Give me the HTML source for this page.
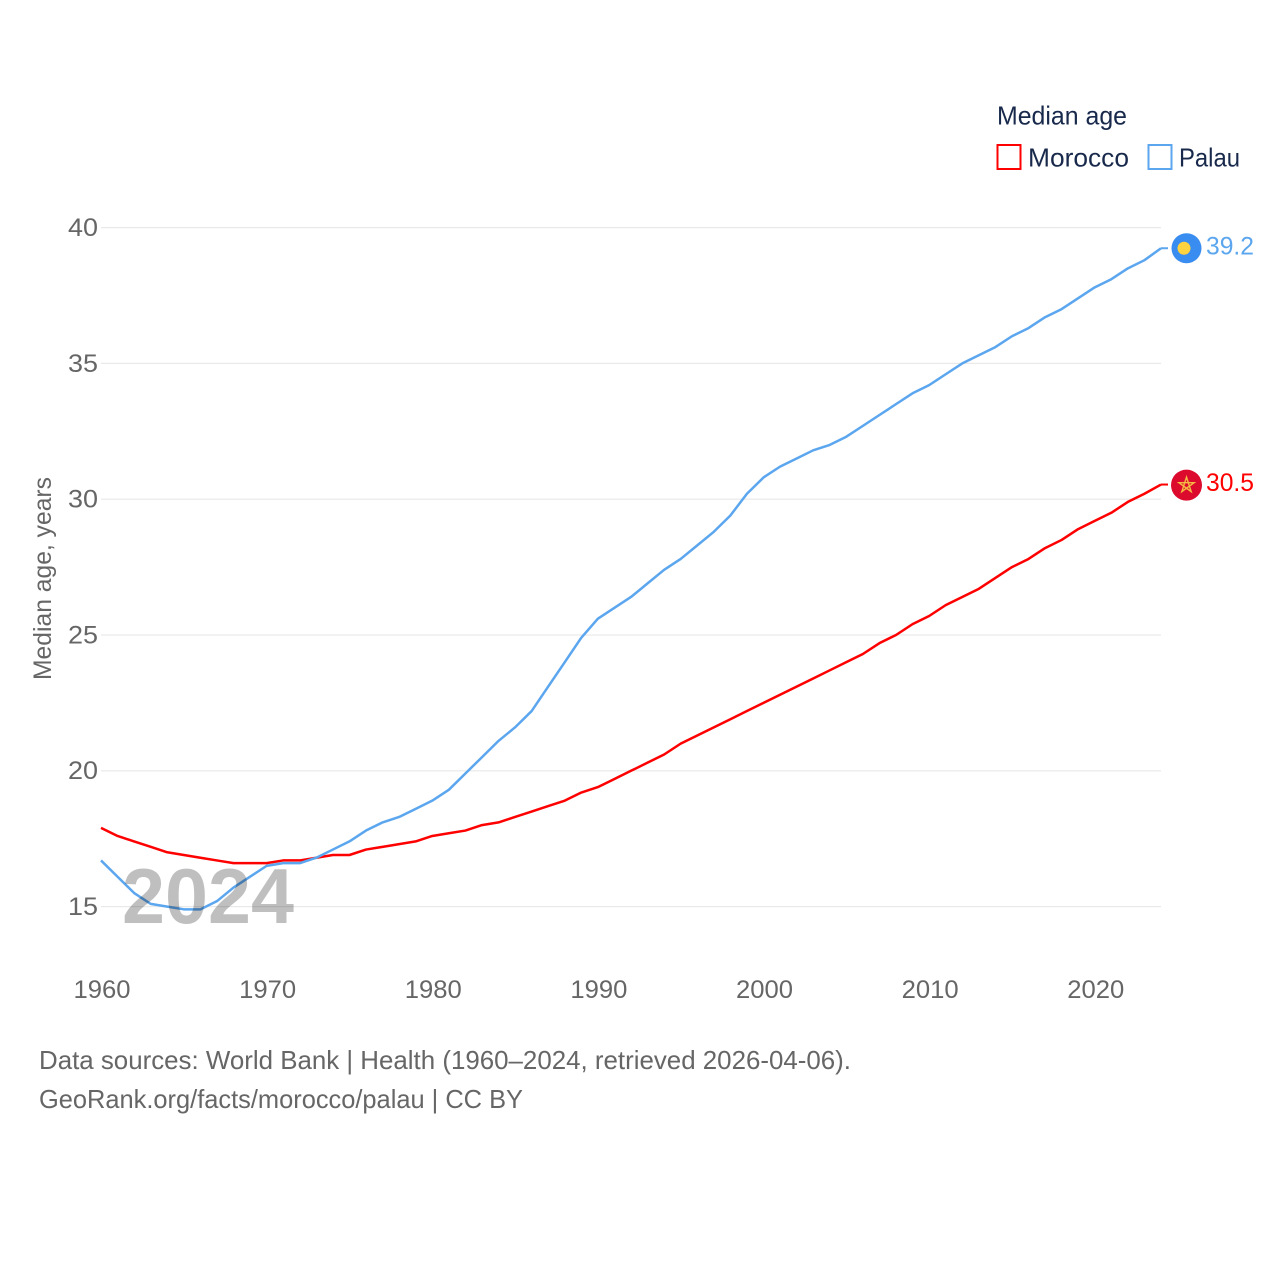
<!DOCTYPE html>
<html lang="en">
<head>
<meta charset="utf-8">
<title>Median age: Morocco and Palau</title>
<style>
html,body{margin:0;padding:0;background:#fff;width:1280px;height:1280px;overflow:hidden}
svg{display:block}
text{font-family:"Liberation Sans",sans-serif}
</style>
</head>
<body>
<svg id="chart" xmlns="http://www.w3.org/2000/svg" width="1280" height="1280" viewBox="0 0 1280 1280">
  <text x="997" y="124.5" font-size="26" fill="#18294b" textLength="130" lengthAdjust="spacingAndGlyphs">Median age</text>
  <rect x="997.5" y="145" width="23" height="24" fill="none" stroke="#ff0000" stroke-width="2"/>
  <text x="1028" y="166.5" font-size="26" fill="#18294b" textLength="101" lengthAdjust="spacingAndGlyphs">Morocco</text>
  <rect x="1148.5" y="145" width="23" height="24" fill="none" stroke="#5ba6ee" stroke-width="2"/>
  <text x="1179" y="166.5" font-size="26" fill="#18294b" textLength="61" lengthAdjust="spacingAndGlyphs">Palau</text>

  <g id="grid"></g>
  <g id="yticks"></g>
  <g id="xticks"></g>

  <text transform="translate(51,680) rotate(-90)" x="0" y="0" font-size="25" fill="#666666" textLength="203" lengthAdjust="spacingAndGlyphs">Median age, years</text>

  <g id="series"></g>

  <text x="122" y="923" font-size="78" font-weight="bold" fill="#000" fill-opacity="0.25" textLength="172" lengthAdjust="spacingAndGlyphs">2024</text>

  <g id="endmarks"></g>

  <text x="39" y="1069" font-size="26" fill="#666666" textLength="812" lengthAdjust="spacingAndGlyphs">Data sources: World Bank | Health (1960–2024, retrieved 2026-04-06).</text>
  <text x="39" y="1108" font-size="26" fill="#666666" textLength="484" lengthAdjust="spacingAndGlyphs">GeoRank.org/facts/morocco/palau | CC BY</text>
</svg>
<script>
const years = [1960,1961,1962,1963,1964,1965,1966,1967,1968,1969,1970,1971,1972,1973,1974,1975,1976,1977,1978,1979,1980,1981,1982,1983,1984,1985,1986,1987,1988,1989,1990,1991,1992,1993,1994,1995,1996,1997,1998,1999,2000,2001,2002,2003,2004,2005,2006,2007,2008,2009,2010,2011,2012,2013,2014,2015,2016,2017,2018,2019,2020,2021,2022,2023,2024];
const morocco = [17.9,17.6,17.4,17.2,17.0,16.9,16.8,16.7,16.6,16.6,16.6,16.7,16.7,16.8,16.9,16.9,17.1,17.2,17.3,17.4,17.6,17.7,17.8,18.0,18.1,18.3,18.5,18.7,18.9,19.2,19.4,19.7,20.0,20.3,20.6,21.0,21.3,21.6,21.9,22.2,22.5,22.8,23.1,23.4,23.7,24.0,24.3,24.7,25.0,25.4,25.7,26.1,26.4,26.7,27.1,27.5,27.8,28.2,28.5,28.9,29.2,29.5,29.9,30.2,30.54];
const palau = [16.7,16.1,15.5,15.1,15.0,14.9,14.9,15.2,15.7,16.1,16.5,16.6,16.6,16.8,17.1,17.4,17.8,18.1,18.3,18.6,18.9,19.3,19.9,20.5,21.1,21.6,22.2,23.1,24.0,24.9,25.6,26.0,26.4,26.9,27.4,27.8,28.3,28.8,29.4,30.2,30.8,31.2,31.5,31.8,32.0,32.3,32.7,33.1,33.5,33.9,34.2,34.6,35.0,35.3,35.6,36.0,36.3,36.7,37.0,37.4,37.8,38.1,38.5,38.8,39.24];
const yTicks = [15,20,25,30,35,40];
const xTicks = [1960,1970,1980,1990,2000,2010,2020];

const NS = 'http://www.w3.org/2000/svg';
function xScale(year){ return 101 + (year - 1960) * (1161 - 101) / (2024 - 1960); }
function yScale(v){ return 906.6 - (v - 15) * (906.6 - 227.6) / (40 - 15); }
function make(tag, attrs, parent, txt){
  const el = document.createElementNS(NS, tag);
  for (const k in attrs) el.setAttribute(k, attrs[k]);
  if (txt !== undefined) el.textContent = txt;
  parent.appendChild(el);
  return el;
}

const grid = document.getElementById('grid');
const yt = document.getElementById('yticks');
const xt = document.getElementById('xticks');
const seriesG = document.getElementById('series');
const endG = document.getElementById('endmarks');

yTicks.forEach(function(t){
  const gl = make('line', {x1:101, x2:1161, y1:yScale(t), y2:yScale(t), stroke:'#e9e9e9', 'stroke-width':1.2}, grid);
  
  
  const lb = make('text', {x:98, y:yScale(t) + 8.4, 'text-anchor':'end', 'font-size':25, fill:'#666666', textLength:30, lengthAdjust:'spacingAndGlyphs'}, yt, String(t));
  
  
});

xTicks.forEach(function(t){
  const lb = make('text', {x:xScale(t) + 1, y:998, 'text-anchor':'middle', 'font-size':25, fill:'#666666', textLength:57, lengthAdjust:'spacingAndGlyphs'}, xt, String(t));
  
  
});

function pathFor(vals){
  return vals.map(function(v, i){
    return (i ? 'L' : 'M') + xScale(years[i]).toFixed(2) + ' ' + yScale(v).toFixed(2);
  }).join(' ');
}

const lineMorocco = make('path', {d:pathFor(morocco), fill:'none', stroke:'#ff0000', 'stroke-width':2.5, 'stroke-linejoin':'round'}, seriesG);


const linePalau = make('path', {d:pathFor(palau), fill:'none', stroke:'#5ba6ee', 'stroke-width':2.5, 'stroke-linejoin':'round'}, seriesG);



const lastX = xScale(years[years.length - 1]);
const lastM = morocco[morocco.length - 1];
const lastP = palau[palau.length - 1];

const connM = make('line', {x1:lastX, x2:lastX + 7, y1:yScale(lastM), y2:yScale(lastM), stroke:'#ff0000', 'stroke-width':2}, endG);


const connP = make('line', {x1:lastX, x2:lastX + 7, y1:yScale(lastP), y2:yScale(lastP), stroke:'#5ba6ee', 'stroke-width':2}, endG);



const flagP = make('circle', {cx:lastX + 25.5, cy:yScale(lastP), r:15, fill:'#3a8df0'}, endG);


const sunP = make('circle', {cx:lastX + 23, cy:yScale(lastP), r:6.5, fill:'#ffd23f'}, endG);



const flagM = make('circle', {cx:lastX + 25.5, cy:yScale(lastM) + 0.6, r:15.5, fill:'#dc0a2d'}, endG);


const cx = lastX + 25.5, cy = yScale(lastM) + 0.6, pts = [];
for (let i = 0; i < 5; i++) {
  const a = -Math.PI / 2 + i * 4 * Math.PI / 5;
  pts.push((cx + 8 * Math.cos(a)).toFixed(2) + ',' + (cy + 8 * Math.sin(a)).toFixed(2));
}
const star = make('polygon', {points:pts.join(' '), fill:'none', stroke:'#f4b942', 'stroke-width':1.4}, endG);



const valP = make('text', {x:1206, y:yScale(lastP) + 6.4, 'font-size':25, fill:'#5ba6ee', textLength:48, lengthAdjust:'spacingAndGlyphs'}, endG, lastP.toFixed(1));


const valM = make('text', {x:1206, y:yScale(lastM) + 6.4, 'font-size':25, fill:'#ff0000', textLength:48, lengthAdjust:'spacingAndGlyphs'}, endG, lastM.toFixed(1));


</script>
</body>
</html>
